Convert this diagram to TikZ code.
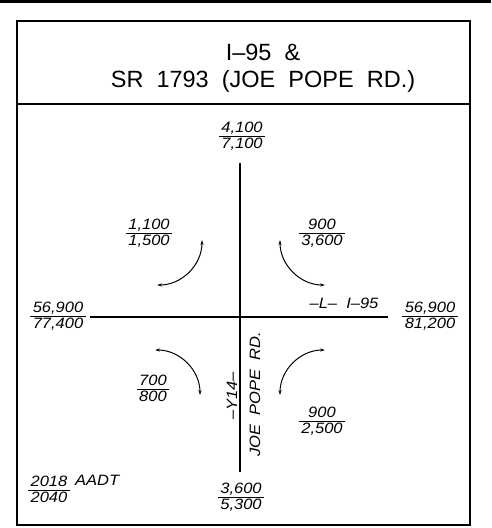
\documentclass[tikz,border=0pt]{standalone}
\usepackage{fontspec}
\setmainfont{Liberation Sans}
\newfontfamily\cadup[FakeStretch=1.0]{Liberation Sans}
\newfontfamily\cadit[FakeStretch=1.1]{Liberation Sans Italic}
\usetikzlibrary{arrows.meta}
\setlength\arrayrulewidth{0.9pt}
\renewcommand\arraystretch{0.75}
\newcommand\vfrac[2]{\begin{tabular}{@{\,}c@{\,}}#1\\\hline\rule{0pt}{11.5pt}#2\end{tabular}}
\begin{document}
\begin{tikzpicture}[x=1pt,y=-1pt,
  frame/.style={line width=2pt},
  road/.style={line width=1.3pt},
  turn/.style={line width=1pt,{Stealth[length=5pt,width=3pt]}-{Stealth[length=5pt,width=3pt]}},
  vol/.style={font=\cadit\fontsize{15}{16}\selectfont, inner sep=0pt},
  ttl/.style={font=\cadup\fontsize{23.5}{26}\selectfont, inner sep=0pt}]
\useasboundingbox (0,0) rectangle (491,528);
% frame
\draw[line width=2.6pt] (0,1.3) -- (491,1.3);
\draw[frame] (17,21) rectangle (470,525);
\draw[frame] (17,103.5) -- (470,103.5);
% title
\node[ttl] (t1) at (263,52) {I–95\ \ \&};
\node[ttl] (t2) at (263,81) {SR\ \ 1793\ \ (JOE\ \ POPE\ \ RD.)};
% roads
\coordinate (vN) at (240,163);
\coordinate (vS) at (240,472);
\coordinate (hW) at (90,317);
\coordinate (hE) at (388,317);
\draw[road] (vN) -- (vS);
\draw[road] (hW) -- (hE);
% turning movements
\coordinate (ulA) at (157,285);
\coordinate (urA) at (280,240);
\coordinate (llA) at (155,350);
\coordinate (lrA) at (280,395);
\draw[turn] (ulA) arc[start angle=90,end angle=0,radius=45];
\draw[turn] (urA) arc[start angle=180,end angle=90,radius=45];
\draw[turn] (llA) arc[start angle=270,end angle=360,radius=45];
\draw[turn] (lrA) arc[start angle=180,end angle=270,radius=45];
% volumes
\node[vol] (n) at (242,137) {\vfrac{4,100}{7,100}};
\node[vol] (ul) at (149,234) {\vfrac{1,100}{1,500}};
\node[vol] (ur) at (322,234) {\vfrac{900}{3,600}};
\node[vol] (w) at (58,317) {\vfrac{56,900}{77,400}};
\node[vol] (e) at (430,317) {\vfrac{56,900}{81,200}};
\node[vol] (ll) at (153,390) {\vfrac{700}{800}};
\node[vol] (lr) at (322,422) {\vfrac{900}{2,500}};
\node[vol] (s) at (241,498) {\vfrac{3,600}{5,300}};
% road labels
\node[vol] (lbl) at (344,303) {–L–\ \ I–95};
\node[vol,rotate=90] (y14) at (232,396) {–Y14–};
\node[vol,rotate=90] (jpr) at (255,394) {JOE\ \ POPE\ \ RD.};
% legend
\node[vol] (leg) at (49,491) {\vfrac{2018}{2040}};
\node[vol,anchor=west] (aadt) at (75,480) {AADT};
\end{tikzpicture}
\end{document}
